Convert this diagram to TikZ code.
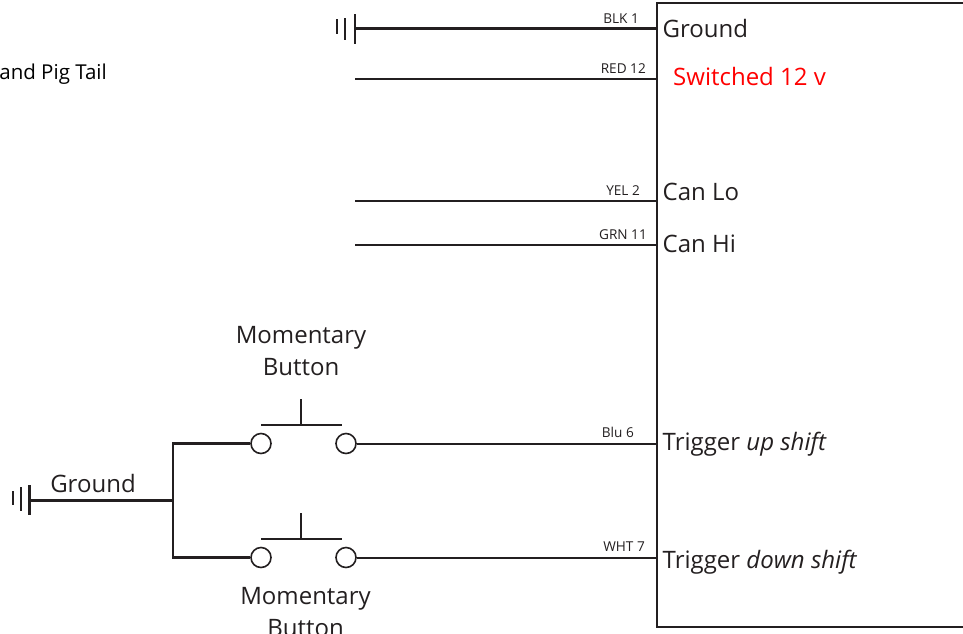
\documentclass[tikz,border=0pt]{standalone}
\usepackage{fontspec}
\setmainfont{Open Sans}
\definecolor{ink}{HTML}{231F20}
\begin{document}
\begin{tikzpicture}[x=1pt,y=-1pt,
  wire/.style={draw=ink,line width=2pt},
  thick wire/.style={draw=ink,line width=2.3pt},
  thin wire/.style={draw=ink,line width=1.7pt},
  terminal/.style={circle,draw=ink,line width=1.6pt,fill=white,inner sep=0pt,minimum size=20pt},
  pin/.style={anchor=west,font=\fontsize{24}{24}\selectfont,text=ink,inner sep=0pt,text depth=0pt},
  wirelabel/.style={anchor=base east,font=\fontsize{13.6}{14}\selectfont,text=ink,inner sep=0pt},
  caption/.style={align=center,font=\fontsize{24}{31.5}\selectfont,text=ink,inner sep=0pt}]
\useasboundingbox (0,0) rectangle (963,633);
\clip (0,0) rectangle (963,633);
% module box
\draw[thin wire] (970,3) -- (657,3) -- (657,627) -- (970,627);
% pin coordinates on the box edge
\coordinate (p1) at (657,28.5);
\coordinate (p12) at (657,79);
\coordinate (p2) at (657,201);
\coordinate (p11) at (657,245);
\coordinate (p6) at (657,443.5);
\coordinate (p7) at (657,557.5);
% free ends
\coordinate (e1) at (355,28.5);
\coordinate (e12) at (355,79);
\coordinate (e2) at (355,201);
\coordinate (e11) at (355,245);
% pin names
\node[pin] (ng) at (662.5,28) {Ground};
\node[pin,text=red] (ns) at (673,76) {Switched 12 v};
\node[pin] (nl) at (662.5,192) {Can Lo};
\node[pin] (nh) at (662.5,244) {Can Hi};
\node[pin] (nu) at (662.5,441) {Trigger \textit{up shift}};
\node[pin] (nd) at (662.5,559) {Trigger \textit{down shift}};
% wire labels
\node[wirelabel] (l1) at (639,23.5) {BLK 1};
\node[wirelabel] (l12) at (646,73) {RED 12};
\node[wirelabel] (l2) at (640,195) {YEL 2};
\node[wirelabel] (l11) at (647,239) {GRN 11};
\node[wirelabel] (l6) at (634,437) {Blu 6};
\node[wirelabel] (l7) at (645,551.5) {WHT 7};
% wires to pins
\draw[thick wire] (e1) -- (p1);
\draw[wire] (e12) -- (p12);
\draw[wire] (e2) -- (p2);
\draw[wire] (e11) -- (p11);
% top ground symbol
\coordinate (gt1a) at (355,14); \coordinate (gt1b) at (355,44);
\coordinate (gt2a) at (345,18); \coordinate (gt2b) at (345,39.5);
\coordinate (gt3a) at (337,19); \coordinate (gt3b) at (337,34);
\draw[thick wire] (gt1a) -- (gt1b);
\draw[wire] (gt2a) -- (gt2b);
\draw[wire] (gt3a) -- (gt3b);
% buttons
\node[terminal] (a1) at (261,443.5) {};
\node[terminal] (a2) at (346,443.5) {};
\node[terminal] (b1) at (261,557.5) {};
\node[terminal] (b2) at (346,557.5) {};
\draw[wire] (a2) -- (p6);
\draw[wire] (b2) -- (p7);
\coordinate (at) at (301,399); \coordinate (am) at (301,425);
\coordinate (al) at (261,425); \coordinate (ar) at (342,425);
\coordinate (bt) at (301,513); \coordinate (bm) at (301,538.5);
\coordinate (bl) at (261,538.5); \coordinate (br) at (342,538.5);
\draw[wire] (al) -- (ar); \draw[wire] (at) -- (am);
\draw[wire] (bl) -- (br); \draw[wire] (bt) -- (bm);
% ground branch
\coordinate (gj) at (173,500.5);
\coordinate (ge) at (30,500.5);
\draw[thick wire] (ge) -- (gj);
\draw[thick wire] (a1) -- (a1 -| gj) -- (b1 -| gj) -- (b1);
\coordinate (g1a) at (29.5,485); \coordinate (g1b) at (29.5,515);
\coordinate (g2a) at (21,487); \coordinate (g2b) at (21,511);
\coordinate (g3a) at (12.7,491); \coordinate (g3b) at (12.7,505);
\draw[thick wire] (g1a) -- (g1b);
\draw[wire] (g2a) -- (g2b);
\draw[wire] (g3a) -- (g3b);
% captions
\node[caption,anchor=base] (cg) at (93,492) {Ground};
\node[caption] (c1) at (301,351) {Momentary\\Button};
\node[caption] (c2) at (305.5,612) {Momentary\\Button};
\node[anchor=base east,font=\fontsize{20.5}{21}\selectfont,text=black,inner sep=0pt] (pt) at (107,79) {and Pig Tail};
\end{tikzpicture}
\end{document}
